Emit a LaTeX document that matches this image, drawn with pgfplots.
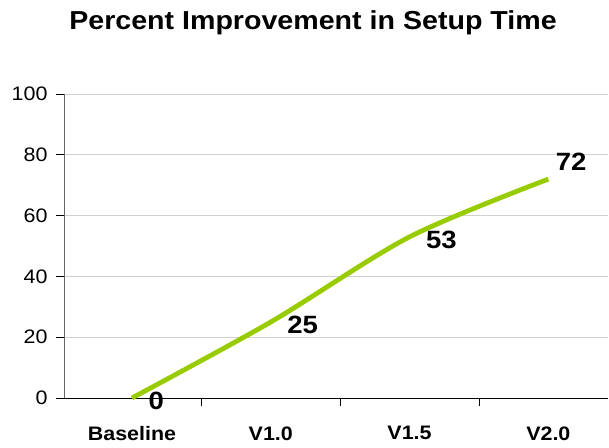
\documentclass[border=0pt]{standalone}
\usepackage{fontspec}
\setmainfont{Liberation Sans}[FakeStretch=1.1]
\usepackage{pgfplots}
\pgfplotsset{compat=1.18}
\definecolor{linegreen}{HTML}{99CC00}
\definecolor{gridgray}{HTML}{D0D0D0}
\begin{document}
\begin{tikzpicture}
\begin{axis}[
  scale only axis,
  width=544bp, height=304bp,
  xmin=-0.49, xmax=3.43,
  ymin=0, ymax=100,
  axis lines*=left,
  axis line style={black, line width=0.8bp},
  y axis line style={draw=gray!80!black},
  ytick={0,20,40,60,80,100},
  ymajorgrids=true,
  grid style={gridgray, line width=0.8bp},
  xtick={-0.5,0.5,1.5,2.5},
  xticklabels={},
  extra x ticks={0,1,2,3},
  extra x tick labels={Baseline,V1.0,V1.5,V2.0},
  extra x tick style={major tick length=0pt, grid=none,
     xticklabel style={font=\fontsize{19.5bp}{21bp}\selectfont\bfseries, yshift=-25bp}},
  tick align=outside,
  major tick length=8bp,
  tick style={black, line width=0.8bp},
  /pgf/number format/assume math mode=true,
  yticklabel style={font=\fontsize{19.5bp}{21bp}\selectfont, xshift=-5bp},
  clip=false,
]
\addplot[linegreen, line width=4.8bp, smooth, tension=0.5] coordinates {(0,0) (1,25) (2,53) (3,72)};
\addplot[draw=none, mark=none, nodes near coords, point meta=y,
  nodes near coords style={anchor=west, xshift=13bp, yshift=-3bp, font=\fontsize{25bp}{27bp}\selectfont\bfseries}]
  coordinates {(0,0) (1,25) (2,53)};
\addplot[draw=none, mark=none, nodes near coords, point meta=y,
  nodes near coords style={anchor=west, xshift=4bp, yshift=17bp, font=\fontsize{25bp}{27bp}\selectfont\bfseries}]
  coordinates {(3,72)};
\coordinate (O) at (rel axis cs:0,0);
\end{axis}
\node[font=\fontsize{26bp}{28bp}\selectfont\bfseries] at ([shift={(249bp,375bp)}]O) {Percent Improvement in Setup Time};
\pgfresetboundingbox
\path (O) ++(-64bp,-50bp) rectangle ++(609bp,448bp);
\end{tikzpicture}
\end{document}
